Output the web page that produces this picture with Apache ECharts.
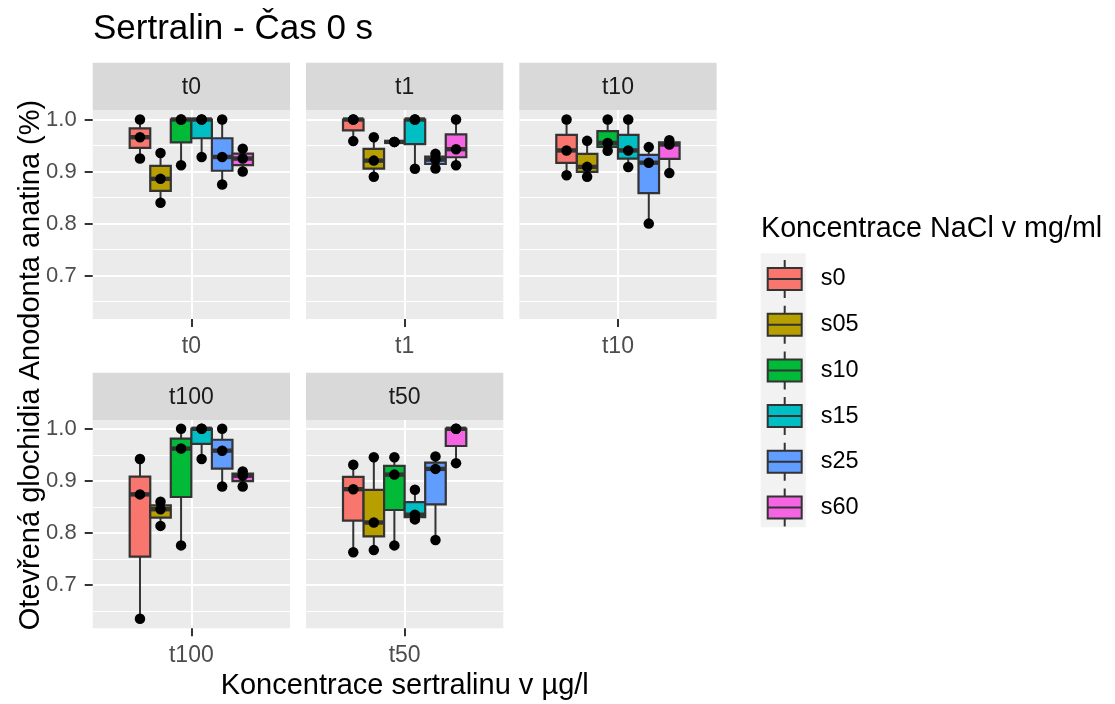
<!DOCTYPE html>
<html><head><meta charset="utf-8">
<script src="https://cdn.jsdelivr.net/npm/echarts@6/dist/echarts.min.js"></script>
<style>html,body{margin:0;padding:0;background:#fff}#c{width:1115px;height:704px}</style>
</head><body><div id="c"></div>
<script>
// ---------- data ----------
const facets = ['t0', 't1', 't10', 't100', 't50'];
const groups = ['s0', 's05', 's10', 's15', 's25', 's60'];
// raw observations per facet, one array per group (s0..s60)
const t0   = [[0.925, 0.966, 1.0], [0.840, 0.886, 0.9355], [0.912, 1.0, 1.0], [0.928, 1.0, 1.0], [0.875, 0.928, 1.0], [0.900, 0.925, 0.944]];
const t1   = [[0.9585, 1.0, 1.0], [0.890, 0.921, 0.966], [0.957, 0.957, 0.957], [0.9055, 1.0, 1.0], [0.906, 0.923, 0.934], [0.912, 0.943, 1.0]];
const t10  = [[0.893, 0.9406, 1.0], [0.890, 0.909, 0.959], [0.940, 0.955, 1.0], [0.9087, 0.9406, 1.0], [0.800, 0.917, 0.947], [0.897, 0.952, 0.960]];
const t100 = [[0.635, 0.874, 0.942], [0.8135, 0.8455, 0.860], [0.776, 0.962, 1.0], [0.942, 1.0, 1.0], [0.889, 0.958, 1.0], [0.889, 0.910, 0.918]];
const t50  = [[0.763, 0.884, 0.931], [0.767, 0.820, 0.9455], [0.776, 0.912, 0.9455], [0.826, 0.835, 0.883], [0.7865, 0.923, 0.947], [0.934, 1.0, 1.0]];
const facetValues = [t0, t1, t10, t100, t50];
const yTicks = [0.7, 0.8, 0.9, 1.0];
const yMinorTicks = [0.65, 0.75, 0.85, 0.95];

// ---------- style ----------
const groupColors = ['#F8766D', '#B79F00', '#00BA38', '#00BFC4', '#619CFF', '#F564E3'];
const FONT = "'Liberation Sans', Arial, sans-serif";
const panelLefts = [92.7, 306, 519.3];
const panelW = 197.3;
const stripTops = [62.7, 372.7];
const stripH = 47.3;
const panelTops = [110, 419.3];
const panelH = 209;

// ---------- helpers ----------
function quantile(s, p) {
  const h = (s.length - 1) * p, lo = Math.floor(h), hi = Math.ceil(h);
  return s[lo] + (h - lo) * (s[hi] - s[lo]);
}
function boxStats(vals) {
  const s = vals.slice().sort((a, b) => a - b);
  const q1 = quantile(s, 0.25), med = quantile(s, 0.5), q3 = quantile(s, 0.75);
  const iqr = q3 - q1;
  const lo = Math.min(...s.filter(v => v >= q1 - 1.5 * iqr));
  const hi = Math.max(...s.filter(v => v <= q3 + 1.5 * iqr));
  return [lo, q1, med, q3, hi];
}
const allVals = facetValues.flat(2);
const dMin = Math.min(...allVals), dMax = Math.max(...allVals);
const yPad = (dMax - dMin) * 0.05;
const yMin = dMin - yPad, yMax = dMax + yPad;

// discrete x: single category at 0.6 on [0, 1.2]; dodge width 0.75 across groups
const xCenter = 0.6, dodge = 0.75, slot = dodge / groups.length;
const xPos = gi => xCenter + (gi - (groups.length - 1) / 2) * slot;

function renderBox(params, api) {
  const x = api.value(0);
  const lo = api.value(1), q1 = api.value(2), med = api.value(3), q3 = api.value(4), hi = api.value(5);
  const hw = slot / 2;
  const bl = api.coord([x - hw, q1]);
  const tr = api.coord([x + hw, q3]);
  const cx = api.coord([x, lo])[0];
  const yLo = api.coord([x, lo])[1], yHi = api.coord([x, hi])[1], yMed = api.coord([x, med])[1];
  const stroke = '#333333';
  return { type: 'group', children: [
    { type: 'line', shape: { x1: cx, y1: yHi, x2: cx, y2: tr[1] }, style: { stroke, lineWidth: 2 } },
    { type: 'line', shape: { x1: cx, y1: bl[1], x2: cx, y2: yLo }, style: { stroke, lineWidth: 2 } },
    { type: 'rect', shape: { x: bl[0], y: tr[1], width: tr[0] - bl[0], height: bl[1] - tr[1] },
      style: { fill: api.visual('color'), stroke, lineWidth: 2.2 } },
    { type: 'line', shape: { x1: bl[0], y1: yMed, x2: tr[0], y2: yMed }, style: { stroke, lineWidth: 4.4 } }
  ] };
}

// ---------- build option ----------
const grids = [], xAxes = [], yAxes = [], series = [], graphics = [];
facets.forEach((f, fi) => {
  const row = Math.floor(fi / 3), col = fi % 3;
  const left = panelLefts[col], top = panelTops[row];
  grids.push({ left, top, width: panelW, height: panelH, show: true, backgroundColor: '#EBEBEB', borderWidth: 0 });
  xAxes.push({
    gridIndex: fi, type: 'value', min: 0, max: 1.2, interval: 0.6,
    axisLine: { show: false },
    axisTick: { show: true, length: 8, customValues: [xCenter], lineStyle: { color: '#333333', width: 2 } },
    axisLabel: { show: true, customValues: [xCenter], margin: 16, fontSize: 23, fontFamily: FONT, color: '#4D4D4D',
      formatter: v => (Math.abs(v - xCenter) < 1e-9 ? f : '') },
    splitLine: { show: true, lineStyle: { color: '#FFFFFF', width: 2 } }
  });
  yAxes.push({
    gridIndex: fi, type: 'value', min: yMin, max: yMax,
    axisLine: { show: false },
    axisTick: { show: col === 0, length: 8, customValues: yTicks, lineStyle: { color: '#333333', width: 2 } },
    axisLabel: { show: col === 0, customValues: yTicks, margin: 16, fontSize: 22, fontFamily: FONT, color: '#4D4D4D',
      formatter: v => v.toFixed(1) },
    splitLine: { show: true, lineStyle: { color: '#FFFFFF', width: 2 } }
  });
  yAxes.push({
    gridIndex: fi, type: 'value', min: yMin, max: yMax,
    axisLine: { show: false },
    axisTick: { show: false, customValues: yMinorTicks },
    axisLabel: { show: false, customValues: yMinorTicks },
    splitLine: { show: true, lineStyle: { color: '#FFFFFF', width: 1.1 } }
  });
  // strip
  graphics.push({ type: 'rect', shape: { x: left, y: stripTops[row], width: panelW, height: stripH },
    style: { fill: '#D9D9D9' }, z: 1 });
  graphics.push({ type: 'text', x: left + panelW / 2, y: stripTops[row] + 25,
    style: { text: f, fontSize: 23, fontFamily: FONT, fill: '#1A1A1A', align: 'center', verticalAlign: 'middle' }, z: 2 });
});
// boxes first (all groups), then points
facets.forEach((f, fi) => {
  groups.forEach((g, gi) => {
    series.push({
      type: 'custom', name: g, xAxisIndex: fi, yAxisIndex: fi * 2, z: 2,
      itemStyle: { color: groupColors[gi], borderColor: '#333333', borderWidth: 2 },
      encode: { x: 0, y: [1, 2, 3, 4, 5] },
      renderItem: renderBox,
      data: [[xPos(gi)].concat(boxStats(facetValues[fi][gi]))]
    });
  });
});
facets.forEach((f, fi) => {
  groups.forEach((g, gi) => {
    series.push({
      type: 'scatter', xAxisIndex: fi, yAxisIndex: fi * 2, z: 3, silent: true,
      symbol: 'circle', symbolSize: 10.5, itemStyle: { color: '#000000', opacity: 1 },
      data: facetValues[fi][gi].map(v => [xPos(gi), v])
    });
  });
});
// legend key background
graphics.push({ type: 'rect', shape: { x: 760.7, y: 253.3, width: 45, height: 274 }, style: { fill: '#F2F2F2' }, z: 0 });
// axis titles
graphics.push({ type: 'text', x: 404.7, y: 686,
  style: { text: 'Koncentrace sertralinu v µg/l', fontSize: 29, fontFamily: FONT, fill: '#000000', align: 'center', verticalAlign: 'middle' } });
graphics.push({ type: 'text', x: 30.5, y: 365, rotation: Math.PI / 2,
  style: { text: 'Otevřená glochidia Anodonta anatina (%)', fontSize: 29, fontFamily: FONT, fill: '#000000', align: 'center', verticalAlign: 'middle' } });

const option = {
  backgroundColor: '#FFFFFF',
  animation: false,
  title: [
    { text: 'Sertralin - Čas 0 s', left: 93, top: 12, padding: 0,
      textStyle: { fontSize: 35, fontWeight: 'normal', color: '#000000', fontFamily: FONT } },
    { text: 'Koncentrace NaCl v mg/ml', left: 761, top: 215, padding: 0,
      textStyle: { fontSize: 28.7, fontWeight: 'normal', color: '#000000', fontFamily: FONT } }
  ],
  legend: {
    data: groups, orient: 'vertical', left: 766.7, top: 259, padding: 0,
    itemWidth: 34, itemHeight: 38, itemGap: 5.7,
    icon: 'path://M0,8L34,8L34,30L0,30Z M0,19L34,19 M17,0L17,8 M17,30L17,38',
    itemStyle: { borderColor: '#333333', borderWidth: 2 },
    textStyle: { fontSize: 23.5, fontFamily: FONT, color: '#000000', padding: [0, 0, 0, 14] },
    selectedMode: false
  },
  grid: grids, xAxis: xAxes, yAxis: yAxes, series, graphic: graphics
};
const chart = echarts.init(document.getElementById('c'), null, { renderer: 'canvas' });
chart.setOption(option);
</script></body></html>
